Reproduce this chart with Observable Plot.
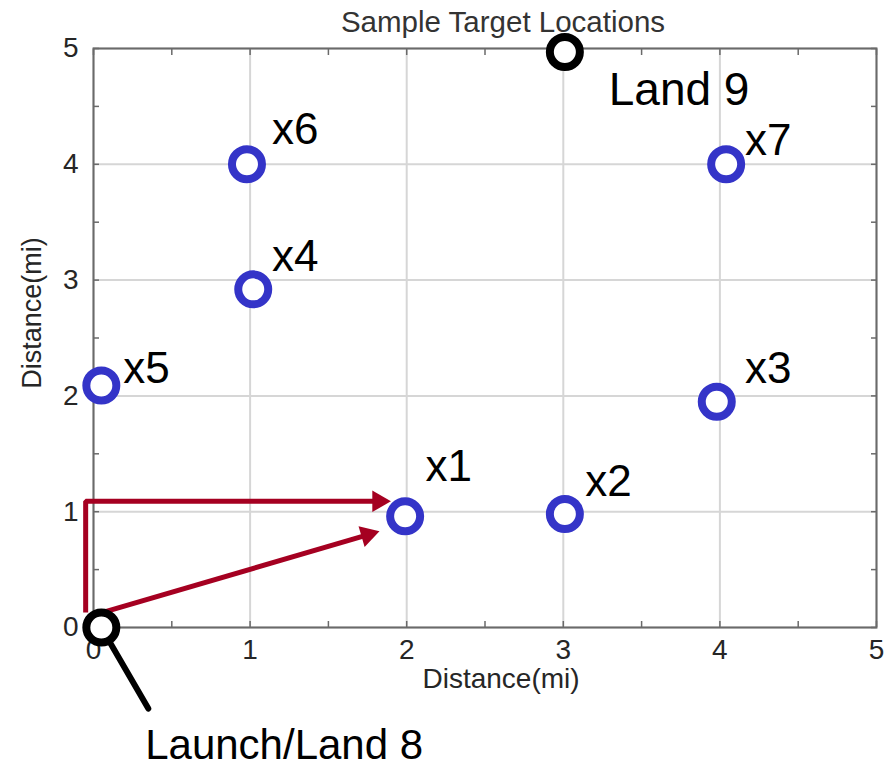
<!DOCTYPE html>
<html>
<head>
<meta charset="utf-8">
<script src="https://cdn.jsdelivr.net/npm/d3@7"></script>
<script src="https://cdn.jsdelivr.net/npm/@observablehq/plot@0.6"></script>
<style>
  html, body { margin: 0; padding: 0; background: #fff; }
  #chart { width: 893px; height: 769px; }
</style>
</head>
<body>
<div id="chart"></div>
<script>
// ---- data ----
const chartTitle = "Sample Target Locations";
const xAxisLabel = "Distance(mi)";
const yAxisLabel = "Distance(mi)";
const majorTicks = [0, 1, 2, 3, 4, 5];
const minorTicks = [0, 0.5, 1, 1.5, 2, 2.5, 3, 3.5, 4, 4.5, 5];

const targetNames = ["x1", "x2", "x3", "x4", "x5", "x6", "x7"];
const targetX = [1.99, 3.01, 3.98, 1.02, 0.05, 0.98, 4.04];
const targetY = [0.96, 0.98, 1.95, 2.92, 2.09, 4.00, 4.00];
const targetLabelX = [2.12, 3.14, 4.16, 1.14, 0.19, 1.14, 4.16];
const targetLabelY = [1.39, 1.26, 2.23, 3.20, 2.23, 4.30, 4.20];

const baseNames = ["Launch/Land 8", "Land 9"];
const baseX = [0.05, 3.01];
const baseY = [0.00, 4.97];
const baseLabelX = [0.33, 3.29];
const baseLabelY = [-1.02, 4.64];
const baseLabelSize = [42, 46];

const leaderX = [0.11, 0.35];
const leaderY = [-0.14, -0.70];

const route1X = [-0.05, -0.05, 1.82];
const route1Y = [0.13, 1.09, 1.09];
const route2X = [0.06, 1.75];
const route2Y = [0.13, 0.80];

// ---- layout ----
const W = 893, H = 769;
const mL = 93, mR = 17, mT = 48, mB = 142;
const pxPerX = (W - mL - mR) / 5;
const pxPerY = (H - mT - mB) / 5;

const targets = targetNames.map((n, i) => ({name: n, x: targetX[i], y: targetY[i], lx: targetLabelX[i], ly: targetLabelY[i]}));
const bases = baseNames.map((n, i) => ({name: n, x: baseX[i], y: baseY[i], lx: baseLabelX[i], ly: baseLabelY[i], fs: baseLabelSize[i]}));
const leader = leaderX.map((x, i) => ({x, y: leaderY[i]}));
const route1 = route1X.map((x, i) => ({x, y: route1Y[i]}));
const route2 = route2X.map((x, i) => ({x, y: route2Y[i]}));

function headOf(route) {
  const a = route[route.length - 2], b = route[route.length - 1];
  const dx = (b.x - a.x) * pxPerX, dy = -(b.y - a.y) * pxPerY;
  const ang = Math.atan2(dy, dx) * 180 / Math.PI; // screen angle
  return {x: b.x, y: b.y, rot: ang + 90};
}
const heads = [headOf(route1), headOf(route2)];

const RED = "#a50021";
const BLUE = "#3434c8";
const FONT = "'Liberation Sans', Arial, Helvetica, sans-serif";

const chart = Plot.plot({
  width: W,
  height: H,
  marginLeft: mL,
  marginRight: mR,
  marginTop: mT,
  marginBottom: mB,
  style: {fontFamily: FONT, background: "#fff", color: "#262626"},
  x: {domain: [0, 5], label: null},
  y: {domain: [0, 5], label: null},
  marks: [
    Plot.gridX(majorTicks, {stroke: "#d6d6d6", strokeOpacity: 1, strokeWidth: 2}),
    Plot.gridY(majorTicks, {stroke: "#d6d6d6", strokeOpacity: 1, strokeWidth: 2}),
    Plot.frame({stroke: "#6a6a6a", strokeWidth: 2}),
    Plot.axisX({anchor: "bottom", ticks: minorTicks, tickSize: -6, tickFormat: () => "", stroke: "#6a6a6a", strokeWidth: 1.5}),
    Plot.axisX({anchor: "top", ticks: minorTicks, tickSize: -6, tickFormat: () => "", stroke: "#6a6a6a", strokeWidth: 1.5}),
    Plot.axisY({anchor: "left", ticks: minorTicks, tickSize: -6, tickFormat: () => "", stroke: "#6a6a6a", strokeWidth: 1.5}),
    Plot.axisY({anchor: "right", ticks: minorTicks, tickSize: -6, tickFormat: () => "", stroke: "#6a6a6a", strokeWidth: 1.5}),
    Plot.axisX({anchor: "bottom", ticks: majorTicks, tickSize: 0, tickPadding: 12, fontSize: 28, fill: "#262626", tickFormat: d3.format("d")}),
    Plot.axisY({anchor: "left", ticks: majorTicks, tickSize: 0, tickPadding: 15, fontSize: 28, fill: "#262626", tickFormat: d3.format("d")}),
    // title and axis labels
    Plot.text([chartTitle], {frameAnchor: "top", textAnchor: "middle", dx: 18, dy: -26, fontSize: 29.5, fill: "#333", lineAnchor: "middle"}),
    Plot.text([xAxisLabel], {frameAnchor: "bottom", textAnchor: "middle", dx: 16, dy: 52, fontSize: 28, fill: "#262626", lineAnchor: "middle"}),
    Plot.text([yAxisLabel], {frameAnchor: "left", textAnchor: "middle", dx: -61, dy: -25, rotate: -90, fontSize: 27, fill: "#262626", lineAnchor: "middle"}),
    // routes
    Plot.line(route1, {x: "x", y: "y", stroke: RED, strokeWidth: 5, strokeLinejoin: "miter", strokeLinecap: "butt"}),
    Plot.line(route2, {x: "x", y: "y", stroke: RED, strokeWidth: 5, strokeLinecap: "butt"}),
    Plot.dot(heads, {x: "x", y: "y", symbol: "triangle", r: 8, fill: RED, stroke: null, rotate: "rot"}),
    // leader line from launch
    Plot.line(leader, {x: "x", y: "y", stroke: "#000", strokeWidth: 6}),
    // markers
    Plot.dot(targets, {x: "x", y: "y", r: 15, stroke: BLUE, strokeWidth: 8, fill: "#fff"}),
    Plot.dot(bases, {x: "x", y: "y", r: 15, stroke: "#000", strokeWidth: 8, fill: "#fff"}),
    // labels
    Plot.text(targets, {x: "lx", y: "ly", text: "name", textAnchor: "start", lineAnchor: "middle", fontSize: 44, fill: "#000"}),
    Plot.text(bases, {x: "lx", y: "ly", text: "name", textAnchor: "start", lineAnchor: "middle", fontSize: (d) => d.fs, fill: "#000"})
  ]
});
document.getElementById("chart").appendChild(chart);
</script>
</body>
</html>
